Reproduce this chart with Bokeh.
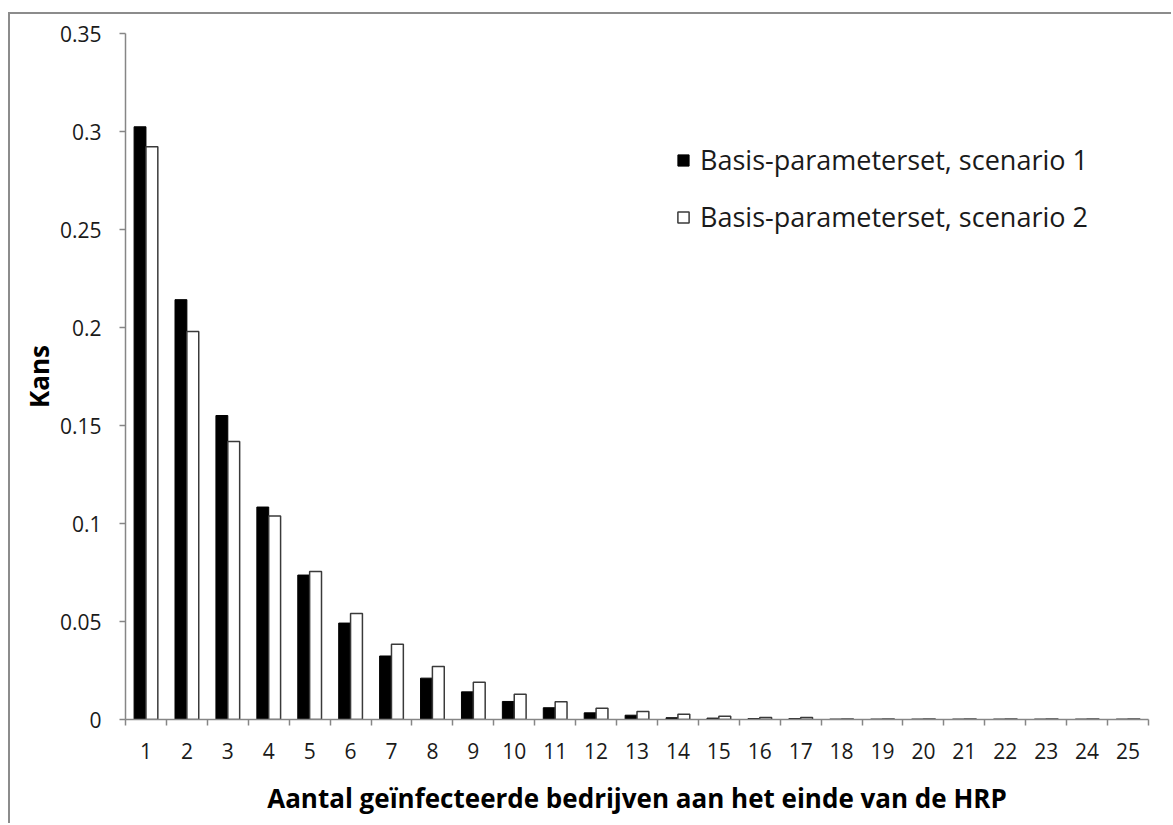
from bokeh.plotting import figure
from bokeh.models import Range1d, FixedTicker, Legend, LegendItem, ColumnDataSource
from bokeh.embed import file_html
from bokeh.resources import INLINE

categories = list(range(1, 26))
scenario1 = [0.3024, 0.2142, 0.1551, 0.1084, 0.0737, 0.0492, 0.0324, 0.0211, 0.0141,
             0.0092, 0.0060, 0.0034, 0.0022, 0.0009, 0.0007, 0.0004, 0.0004, 0.0002,
             0.0002, 0.0002, 0.0002, 0.0002, 0.0002, 0.0002, 0.0002]
scenario2 = [0.2922, 0.1979, 0.1418, 0.1038, 0.0755, 0.0541, 0.0384, 0.0271, 0.0190,
             0.0129, 0.0090, 0.0058, 0.0041, 0.0027, 0.0017, 0.0010, 0.0010, 0.0002,
             0.0002, 0.0002, 0.0002, 0.0002, 0.0002, 0.0002, 0.0002]
y_ticks = [0, 0.05, 0.1, 0.15, 0.2, 0.25, 0.3, 0.35]
y_tick_labels = ["0", "0.05", "0.1", "0.15", "0.2", "0.25", "0.3", "0.35"]
label1 = "Basis-parameterset, scenario 1"
label2 = "Basis-parameterset, scenario 2"
x_title = "Aantal geïnfecteerde bedrijven aan het einde van de HRP"
y_title = "Kans"

FONT = "Open Sans"
GRAY = "#868686"
TXT = "#1a1a1a"

off = 0.145
bw = 0.29
src = ColumnDataSource(dict(
    x1=[c - off for c in categories], y1=scenario1,
    x2=[c + off for c in categories], y2=scenario2,
))

p = figure(width=1163, height=811, frame_width=1023, frame_height=686,
           min_border_left=115, min_border_right=25, min_border_top=19, min_border_bottom=106,
           x_range=Range1d(0.5, 25.5), y_range=Range1d(0, 0.35),
           output_backend="svg", toolbar_location=None)
p.margin = (14, 0, 0, 10)
# outer chart border: only its top and left edges fall inside the picture
p.styles = {"box-shadow": "-2px -2px 0px 0px #8c8c8c"}
p.outline_line_color = None
p.xgrid.visible = False
p.ygrid.visible = False
p.background_fill_color = "white"
p.border_fill_color = "white"

r1 = p.vbar(x="x1", top="y1", width=bw, source=src, fill_color="black",
            line_color="black", line_width=1)
r2 = p.vbar(x="x2", top="y2", width=bw, source=src, fill_color="white",
            line_color="#3a3a3a", line_width=1.5)

# Y axis
ya = p.yaxis[0]
ya.ticker = FixedTicker(ticks=y_ticks, minor_ticks=[])
ya.major_label_overrides = {t: l for t, l in zip(y_ticks, y_tick_labels)}
ya.axis_line_color = GRAY
ya.axis_line_width = 1.5
ya.major_tick_line_color = GRAY
ya.major_tick_line_width = 1.5
ya.major_tick_out = 6
ya.major_tick_in = 0
ya.minor_tick_line_color = None
ya.major_label_text_font = FONT
ya.major_label_text_font_size = "21px"
ya.major_label_text_color = TXT
ya.major_label_standoff = 18
ya.axis_label = y_title
ya.axis_label_text_font = FONT
ya.axis_label_text_font_size = "26px"
ya.axis_label_text_font_style = "bold"
ya.axis_label_text_color = "black"
ya.axis_label_standoff = 0

# X axis
xa = p.xaxis[0]
xa.ticker = FixedTicker(ticks=categories, minor_ticks=[c + 0.5 for c in range(0, 26)])
xa.axis_line_color = GRAY
xa.axis_line_width = 1.5
xa.major_tick_line_color = None
xa.major_tick_out = 0
xa.major_tick_in = 0
xa.minor_tick_line_color = GRAY
xa.minor_tick_line_width = 1.5
xa.minor_tick_out = 6
xa.minor_tick_in = 0
xa.major_label_text_font = FONT
xa.major_label_text_font_size = "21px"
xa.major_label_text_color = TXT
xa.major_label_standoff = 17
xa.axis_label = x_title
xa.axis_label_text_font = FONT
xa.axis_label_text_font_size = "26px"
xa.axis_label_text_font_style = "bold"
xa.axis_label_text_color = "black"
xa.axis_label_standoff = 18

legend = Legend(items=[LegendItem(label=label1, renderers=[r1]),
                       LegendItem(label=label2, renderers=[r2])],
                location=(551, 484), orientation="vertical")
legend.padding = 0
legend.margin = 0
legend.spacing = 20
legend.glyph_width = 14
legend.glyph_height = 14
legend.label_height = 37
legend.label_standoff = 10
legend.label_text_font = FONT
legend.label_text_font_size = "27px"
legend.label_text_color = TXT
legend.border_line_color = None
legend.background_fill_alpha = 0
p.add_layout(legend)

open("out.html", "w").write(file_html(p, INLINE))
